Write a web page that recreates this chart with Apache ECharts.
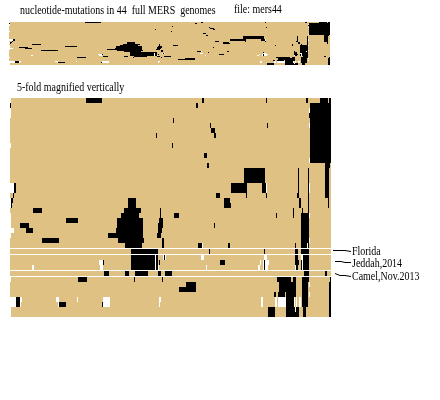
<!DOCTYPE html>
<html>
<head>
<meta charset="utf-8">
<style>html,body{margin:0;padding:0;background:#fff}#c{width:440px;height:400px}</style>
<script src="https://cdn.jsdelivr.net/npm/echarts@6/dist/echarts.min.js"></script>
</head>
<body>
<div id="c"></div>
<script>
// [firstRow, endRow (exclusive), firstColumn, endColumn (exclusive)]
const mutations = [
[0,1,86,102],[0,1,202,204],[0,1,266,267],[0,1,306,308],[0,1,320,328],[0,1,329,331],
[1,2,10,11],[1,2,196,198],[1,13,310,331],[3,4,309,310],[4,5,173,174],
[5,6,210,211],[5,6,267,268],[6,7,211,215],[7,8,214,216],[7,8,156,157],
[9,10,172,173],[11,12,204,207],[13,14,207,209],[13,14,325,330],
[14,17,244,265],[14,19,298,299],[19,20,297,299],[20,22,299,301],[14,23,308,309],[14,20,325,329],[20,22,328,329],
[17,19,231,247],[17,19,262,266],[19,20,216,220],[19,20,246,247],[19,20,266,267],
[20,21,224,230],[21,22,224,231],[22,24,293,294],[22,23,302,303],
[17,19,14,16],[19,20,13,14],[20,21,11,13],[21,22,11,12],[20,22,128,136],
[22,23,33,42],[22,23,124,141],[22,24,160,161],
[23,24,121,139],[23,24,174,179],[23,24,276,277],[23,29,301,309],
[24,25,66,78],[24,26,117,143],[24,25,159,163],
[25,26,20,29],[25,26,158,163],[25,26,214,215],
[26,27,26,33],[26,27,116,143],[26,27,158,162],
[27,28,108,143],[27,28,157,161],
[28,29,42,59],[28,29,118,144],[28,30,162,164],
[29,30,125,142],[29,30,198,202],[29,30,228,230],[29,30,295,296],[29,30,301,307],[29,30,308,309],
[30,31,131,158],[30,31,209,210],[30,31,264,265],[30,31,295,298],[30,31,301,309],
[31,34,131,155],[31,34,156,158],[31,32,164,165],[31,32,295,298],[31,34,303,309],
[32,33,103,104],[32,33,159,160],[32,33,220,225],[32,33,295,299],[32,34,301,302],[32,34,264,265],[33,34,296,298],
[34,35,104,109],[34,35,125,129],[34,35,135,148],[34,35,158,161],[34,35,165,172],[34,35,304,309],[34,35,325,327],
[35,36,78,87],[35,36,134,135],[35,36,162,163],[35,36,277,291],[35,36,293,296],[35,36,302,309],[35,36,330,331],
[36,37,186,196],[36,38,279,296],[36,41,302,308],[36,43,329,331],[37,38,179,196],
[38,39,274,276],[38,39,278,285],[38,39,286,296],
[39,41,16,20],[39,41,286,294],[40,41,59,66],[40,41,102,103],
[41,43,268,275],[41,42,286,295],[41,42,296,299],[42,43,286,299],[41,43,303,306]
];
const gaps = [
[0,1,10,11],[2,4,10,11],[9,10,10,11],[2,3,309,310],[5,6,309,310],[12,13,309,310],
[17,19,309,310],[17,19,266,267],[17,19,10,14],[20,22,10,11],
[23,26,10,11],[26,27,10,14],[27,28,10,11],[23,24,309,310],[28,29,309,310],[29,30,307,308],[29,30,202,203],
[31,34,155,156],[31,32,163,164],[31,32,165,166],[31,32,201,204],[31,32,264,267],
[32,33,99,103],[32,33,260,261],[33,34,32,34],[33,34,100,103],[33,34,158,159],[33,34,206,207],[33,34,258,260],[33,34,295,296],
[32,34,263,264],[32,33,265,269],[33,34,265,268],[31,32,301,303],[32,34,302,303],
[35,36,10,11],[41,43,10,11],[36,37,309,310],[38,39,309,310],
[39,41,10,16],[39,40,20,22],[40,41,20,21],[39,40,56,59],[40,41,58,59],[39,40,77,78],[39,41,103,110],[39,40,159,161],[40,41,159,160],
[39,41,261,263],[39,41,275,277],[39,41,278,286],[39,41,294,295],[39,41,296,297],[39,41,299,301],[41,42,295,296]
];
// rows that are preceded by a thin white separator in the magnified panel
const separatorRows = [30, 31, 34, 35];
const genomeLabels = ['Florida', 'Jeddah,2014', 'Camel,Nov.2013'];
const titleText = 'nucleotide-mutations in 44  full MERS  genomes';
const fileText = 'file: mers44';
const zoomText = '5-fold magnified vertically';

const ROWS = 43, SEP = 0.2;
const rowPos = r => r + SEP * separatorRows.filter(s => s <= r).length;
const rowPosEnd = r => r + SEP * separatorRows.filter(s => s < r).length;

function runSeries(data, color, idx, mag) {
  return {
    type: 'custom', xAxisIndex: idx, yAxisIndex: idx, data: data, silent: true, z: color === '#000' ? 3 : 4,
    encode: { x: [2, 3], y: [0, 1] },
    renderItem: (params, api) => {
      const r0 = api.value(0), r1 = api.value(1);
      const a = api.coord([api.value(2), mag ? rowPos(r0) : r0]);
      const b = api.coord([api.value(3), mag ? rowPosEnd(r1) : r1]);
      return { type: 'rect', shape: { x: a[0], y: a[1], width: b[0] - a[0], height: b[1] - a[1] }, style: { fill: color } };
    }
  };
}
const sepSeries = {
  type: 'custom', xAxisIndex: 1, yAxisIndex: 1, data: separatorRows.map(s => [s]), silent: true, z: 5,
  encode: { y: 0 },
  renderItem: (params, api) => {
    const s = api.value(0);
    const a = api.coord([10, rowPos(s) - SEP]);
    const b = api.coord([331, rowPos(s)]);
    return { type: 'rect', shape: { x: a[0], y: a[1], width: b[0] - a[0], height: b[1] - a[1] }, style: { fill: '#fff' } };
  }
};
const textStyle = { fontFamily: 'Liberation Serif', fontSize: 12, fill: '#000' };
const txt = (s, x, y) => ({ type: 'text', x, y, scaleX: 0.83, style: Object.assign({ text: s, textVerticalAlign: 'middle' }, textStyle), silent: true });
const leader = (pts) => ({ type: 'polyline', shape: { points: pts }, style: { stroke: '#000', lineWidth: 1, fill: null }, silent: true });

const axisOff = { show: false };
const chart = echarts.init(document.getElementById('c'), null, { renderer: 'canvas' });
chart.setOption({
  animation: false,
  backgroundColor: '#fff',
  grid: [
    { left: 9, top: 22, width: 321, height: 43, show: true, backgroundColor: '#DFC184', borderWidth: 0 },
    { left: 10, top: 98, width: 321, height: 219, show: true, backgroundColor: '#DFC184', borderWidth: 0 }
  ],
  xAxis: [
    Object.assign({ type: 'value', gridIndex: 0, min: 10, max: 331 }, axisOff),
    Object.assign({ type: 'value', gridIndex: 1, min: 10, max: 331 }, axisOff)
  ],
  yAxis: [
    Object.assign({ type: 'value', gridIndex: 0, min: 0, max: ROWS, inverse: true }, axisOff),
    Object.assign({ type: 'value', gridIndex: 1, min: 0, max: ROWS + SEP * separatorRows.length, inverse: true }, axisOff)
  ],
  series: [
    runSeries(mutations, '#000', 0, false),
    runSeries(gaps, '#fff', 0, false),
    runSeries(mutations, '#000', 1, true),
    runSeries(gaps, '#fff', 1, true),
    sepSeries
  ],
  graphic: [
    txt(titleText, 20, 11),
    txt(fileText, 234, 10),
    txt(zoomText, 17, 88),
    txt(genomeLabels[0], 352, 252),
    txt(genomeLabels[1], 352, 264),
    txt(genomeLabels[2], 352, 277),
    leader([[333, 250.5], [345, 250.5], [351, 251.5]]),
    leader([[335, 261.5], [341, 261.5], [345, 262.5], [351, 262.5]]),
    leader([[335, 273.5], [340, 275.5], [345, 275.5], [351, 276.5]])
  ]
});
</script>
</body>
</html>
